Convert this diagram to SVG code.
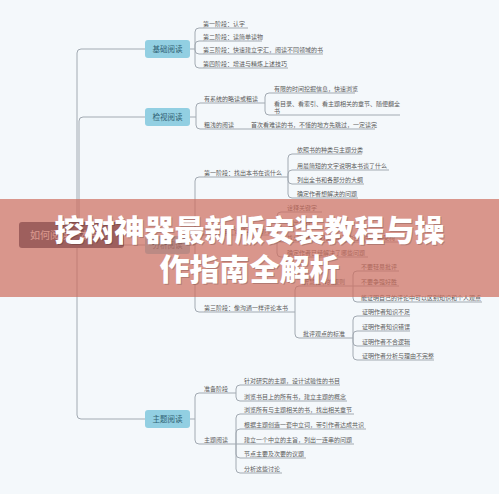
<svg xmlns="http://www.w3.org/2000/svg" width="499" height="494" viewBox="0 0 499 494">
<style>
.bg{fill:#f4f8fb}
.c{fill:none;stroke:#a2aab2;stroke-width:1}
.t{font-family:"Noto Sans CJK SC","Noto Sans",sans-serif;font-size:6px;fill:#5a5a5a}
.n rect{fill:#92cfe2}
.n text{font-family:"Noto Sans CJK SC","Noto Sans",sans-serif;font-size:7.5px;fill:#2f5f72;text-anchor:middle}
.root rect{fill:#30415f}
.root text{font-family:"Noto Sans CJK SC","Noto Sans",sans-serif;font-size:10px;fill:#ffffff}
.ttl{font-family:"Noto Sans CJK SC","Noto Sans CJK JP",sans-serif;font-size:30px;font-weight:900;text-anchor:middle}
</style>
<rect class="bg" x="0" y="0" width="499" height="494"/>
<g id="connectors" class="c">
<path d="M77,235 V53 Q77,49 81,49 H145"/>
<path d="M79,235 V121 Q79,117 83,117 H145"/>
<path d="M124,245 H145"/>
<path d="M77,235 V415 Q77,419 81,419 H145"/>
<path d="M190,49 H195 V32 Q195,28 199,28 H248"/>
<path d="M195,49 V45 Q195,41 199,41 H262"/>
<path d="M195,49 V50 Q195,54 199,54 H323"/>
<path d="M195,49 V64 Q195,68 199,68 H288"/>
<path d="M190,117 H196 V107 Q196,103 200,103 H265"/>
<path d="M196,117 V125 Q196,129 200,129 H375"/>
<path d="M265,103 V97 Q265,93 269,93 H355"/>
<path d="M265,103 V111 Q265,115 269,115 H400"/>
<path d="M190,245 H195 V181 Q195,177 199,177 H288"/>
<path d="M195,245 V239 Q195,235 199,235 H277"/>
<path d="M195,245 V308 Q195,312 199,312 H295"/>
<path d="M288,177 V158 Q288,154 292,154 H362"/>
<path d="M288,177 V174 Q288,170 292,170 H389"/>
<path d="M288,177 V180 Q288,184 292,184 H364"/>
<path d="M288,177 V194 Q288,198 292,198 H358"/>
<path d="M277,235 V216 Q277,212 281,212 H322"/>
<path d="M277,235 V231 Q277,227 281,227 H320"/>
<path d="M277,235 V238 Q277,242 281,242 H410"/>
<path d="M277,235 V253 Q277,257 281,257 H368"/>
<path d="M295,312 V290 Q295,286 299,286 H353"/>
<path d="M295,312 V334 Q295,338 299,338 H353"/>
<path d="M353,286 V275 Q353,271 357,271 H399"/>
<path d="M353,286 H399"/>
<path d="M353,286 V298 Q353,302 357,302 H482"/>
<path d="M353,338 V320 Q353,316 357,316 H410"/>
<path d="M353,338 V335 Q353,331 357,331 H410"/>
<path d="M353,338 V342 Q353,346 357,346 H410"/>
<path d="M353,338 V356 Q353,360 357,360 H434"/>
<path d="M190,419 H195 V397 Q195,393 199,393 H236"/>
<path d="M195,419 V440 Q195,444 199,444 H236"/>
<path d="M236,393 V389 Q236,385 240,385 H340"/>
<path d="M236,393 V397 Q236,401 240,401 H347"/>
<path d="M236,444 V418 Q236,414 240,414 H354"/>
<path d="M236,444 V433 Q236,429 240,429 H366"/>
<path d="M236,444 H354"/>
<path d="M236,444 V454 Q236,458 240,458 H306"/>
<path d="M236,444 V469 Q236,473 240,473 H282"/>
</g>
<g id="root" class="root"><rect x="19" y="222" width="105" height="26" rx="3"/><text x="30" y="238.5">如何阅读一本书</text></g>
<g id="n-jichu" class="n"><rect x="145" y="40" width="45" height="18" rx="3"/><text x="167.5" y="51.7">基础阅读</text></g>
<g id="n-jianshi" class="n"><rect x="145" y="108" width="45" height="18" rx="3"/><text x="167.5" y="119.7">检视阅读</text></g>
<g id="n-fenxi" class="n"><rect x="145" y="236" width="45" height="18" rx="3"/><text x="167.5" y="247.7">分析阅读</text></g>
<g id="n-zhuti" class="n"><rect x="145" y="410" width="45" height="18" rx="3"/><text x="167.5" y="421.7">主题阅读</text></g>
<g id="leaves" class="t">
<g id="l1"><text x="203" y="25.5">第一阶段：认字</text></g>
<g id="l2"><text x="203" y="38.5">第二阶段：读简单读物</text></g>
<g id="l3"><text x="203" y="51.5">第三阶段：快速建立字汇，阅读不同领域的书</text></g>
<g id="l4"><text x="203" y="65.5">第四阶段：增进与精炼上述技巧</text></g>
<g id="l5"><text x="204" y="100.5">有系统的略读或粗读</text></g>
<g id="l6"><text x="274" y="90.5">有限的时间挖掘信息，快速浏览</text></g>
<g id="l7"><text x="274" y="106">看目录、看索引、看主题相关的章节、随便翻全</text><text x="274" y="113">书</text></g>
<g id="l8"><text x="204" y="126.5">粗浅的阅读</text></g>
<g id="l9"><text x="251" y="126.5">首次看难读的书，不懂的地方先跳过，一定读完</text></g>
<g id="l10"><text x="204" y="174.5">第一阶段：找出本书在谈什么</text></g>
<g id="l11"><text x="297" y="151.5">依照书的种类与主题分类</text></g>
<g id="l12"><text x="297" y="167.5">用最简短的文字说明本书谈了什么</text></g>
<g id="l13"><text x="297" y="181.5">列出全书和各部分的大纲</text></g>
<g id="l14"><text x="297" y="195.5">确定作者想解决的问题</text></g>
<g id="l15"><text x="204" y="232.5">第二阶段：诠释本书的内容</text></g>
<g id="l16"><text x="287" y="209.5">诠释关键字</text></g>
<g id="l17"><text x="287" y="224.5">找出关键句</text></g>
<g id="l18"><text x="287" y="239.5">找出论述，从相关句子的连结中重新架构</text></g>
<g id="l19"><text x="287" y="254.5">确定作者已经解决了哪些问题</text></g>
<g id="l20"><text x="204" y="309.5">第三阶段：像沟通一样评论本书</text></g>
<g id="l21"><text x="303" y="283.5">智慧礼节的规则</text></g>
<g id="l22"><text x="361" y="268.5">不要轻易批评</text></g>
<g id="l23"><text x="361" y="283.5">不要争强好胜</text></g>
<g id="l24"><text x="361" y="299.5">能证明自己的评论中可以区别知识和个人观点</text></g>
<g id="l25"><text x="303" y="335.5">批评观点的标准</text></g>
<g id="l26"><text x="362" y="313.5">证明作者知识不足</text></g>
<g id="l27"><text x="362" y="328.5">证明作者知识错误</text></g>
<g id="l28"><text x="362" y="343.5">证明作者不合逻辑</text></g>
<g id="l29"><text x="362" y="357.5">证明作者分析与理由不完整</text></g>
<g id="l30"><text x="204" y="390.5">准备阶段</text></g>
<g id="l31"><text x="244" y="382.5">针对研究的主题，设计试验性的书目</text></g>
<g id="l32"><text x="244" y="398.5">浏览书目上的所有书，建立主题的概念</text></g>
<g id="l33"><text x="204" y="441.5">主题阅读</text></g>
<g id="l34"><text x="244" y="411.5">浏览所有与主题相关的书，找出相关章节</text></g>
<g id="l35"><text x="244" y="426.5">根据主题创造一套中立词，带引作者达成共识</text></g>
<g id="l36"><text x="244" y="441.5">建立一个中立的主旨，列出一连串的问题</text></g>
<g id="l37"><text x="244" y="455.5">节点主要及次要的议题</text></g>
<g id="l38"><text x="244" y="470.5">分析这些讨论</text></g>
</g>
<g id="banner">
<rect x="0" y="199" width="499" height="98" fill="#cd6c5c" opacity="0.7"/>
<g class="ttl" fill="#000" opacity="0.18">
<text x="250.5" y="241.5">挖树神器最新版安装教程与操</text>
<text x="250.5" y="280.5">作指南全解析</text>
</g>
<g class="ttl" fill="#ffffff">
<text x="249.5" y="240.5">挖树神器最新版安装教程与操</text>
<text x="249.5" y="279.5">作指南全解析</text>
</g>
</g>
</svg>
